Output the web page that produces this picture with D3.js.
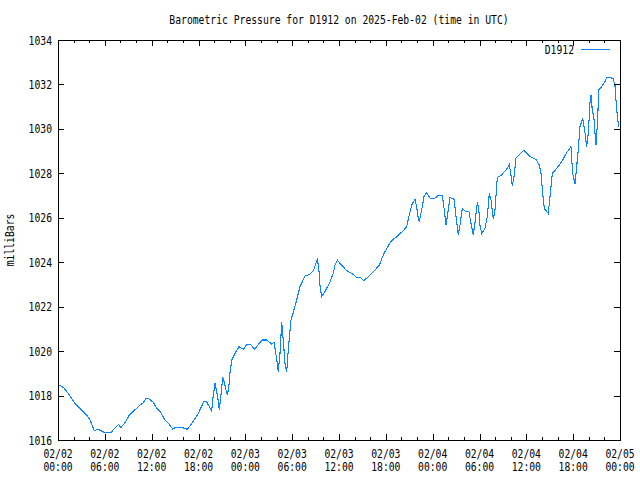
<!DOCTYPE html>
<html><head><meta charset="utf-8">
<script src="https://cdn.jsdelivr.net/npm/d3@7"></script>
<style>body{margin:0;background:#fff}svg{display:block}text{font-family:"DejaVu Sans Mono",monospace;fill:#000}</style>
</head><body>
<svg id="c" width="640" height="480"></svg>
<script>
const title = "Barometric Pressure for D1912 on 2025-Feb-02 (time in UTC)";
const seriesName = "D1912";
const yLabel = "milliBars";
const startTime = Date.UTC(2025, 1, 2, 0, 0);
const hours = [0,0.68,1.32,2.18,3.67,4.1,4.65,5.16,6.02,6.75,7.73,8.07,8.58,9.14,10.5,10.93,11.27,11.7,12.2,12.64,13.07,13.7,14.13,14.69,15.12,15.84,16.6,17.13,17.98,18.7,19.05,19.38,19.69,19.81,20.11,20.24,20.46,20.67,20.84,21.1,21.31,21.52,21.69,21.87,22.03,22.25,22.68,23.19,23.74,24.17,24.68,25.2,25.66,26.22,26.73,27.37,27.67,28.06,28.22,28.44,28.66,28.86,29.08,29.3,29.5,29.85,30.15,30.58,31.0,31.64,32.2,32.71,33.05,33.22,33.4,33.56,33.78,34.2,34.85,35.27,35.49,35.79,36.13,36.98,37.63,38.26,38.69,39.2,39.75,40.4,41.16,41.67,42.19,42.75,43.39,44.24,44.67,45.0,45.31,45.73,45.95,46.16,46.28,46.59,46.89,47.23,47.74,48.2,48.72,49.23,49.49,49.71,50.0,50.22,50.73,50.95,51.28,51.5,51.79,52.14,52.65,52.87,53.21,53.43,53.73,53.9,54.06,54.28,54.7,55.0,55.26,55.48,55.77,55.98,56.28,56.84,57.05,57.48,57.82,58.03,58.2,58.42,58.67,59.18,59.7,60.04,60.47,61.23,61.66,61.88,62.09,62.3,62.81,63.03,63.33,63.89,64.53,65.17,65.72,65.93,66.23,66.53,66.66,66.87,67.22,67.5,67.72,67.94,68.15,68.28,68.45,68.66,68.83,68.92,69.14,69.26,69.65,70.07,70.28,70.71,71.13,71.35,71.56,71.82];
const pressure = [1018.5,1018.37,1018.1,1017.65,1017.12,1016.9,1016.42,1016.48,1016.33,1016.33,1016.7,1016.57,1016.78,1017.12,1017.57,1017.68,1017.87,1017.84,1017.7,1017.43,1017.28,1016.9,1016.75,1016.5,1016.57,1016.57,1016.48,1016.75,1017.2,1017.75,1017.72,1017.5,1017.3,1017.8,1018.55,1018.33,1017.95,1017.35,1017.88,1018.82,1018.58,1018.25,1018.02,1018.33,1019.0,1019.6,1019.9,1020.2,1020.08,1020.3,1020.3,1020.08,1020.3,1020.5,1020.5,1020.32,1020.4,1019.53,1019.08,1019.9,1021.3,1020.5,1019.45,1019.07,1020.05,1021.4,1021.75,1022.3,1022.9,1023.38,1023.45,1023.62,1023.95,1024.1,1023.8,1022.97,1022.45,1022.67,1023.12,1023.5,1023.87,1024.1,1023.95,1023.62,1023.5,1023.32,1023.32,1023.17,1023.35,1023.57,1023.87,1024.32,1024.67,1024.97,1025.15,1025.42,1025.6,1026.12,1026.57,1026.83,1026.5,1025.98,1025.82,1026.35,1026.95,1027.13,1026.85,1026.85,1027.02,1027.0,1026.35,1025.67,1026.35,1026.9,1026.85,1026.2,1025.22,1025.67,1026.42,1026.3,1026.27,1025.82,1025.22,1025.82,1026.7,1026.42,1025.67,1025.3,1025.52,1026.05,1027.1,1026.8,1025.93,1026.35,1027.82,1027.92,1028.03,1028.18,1028.4,1027.92,1027.43,1027.85,1028.68,1028.86,1029.05,1028.9,1028.75,1028.63,1028.37,1028.0,1027.1,1026.42,1026.2,1026.95,1028.0,1028.22,1028.52,1028.93,1029.2,1028.0,1027.52,1028.6,1029.08,1030.1,1030.48,1029.87,1029.2,1029.8,1031.15,1031.52,1030.85,1030.48,1029.65,1029.27,1030.4,1031.75,1031.9,1032.12,1032.32,1032.32,1032.25,1031.97,1030.93,1030.1];
const yTicks = [1016,1018,1020,1022,1024,1026,1028,1030,1032,1034];
const xTickHours = [0,6,12,18,24,30,36,42,48,54,60,66,72];
const xTickLabels = [["02/02","00:00"],["02/02","06:00"],["02/02","12:00"],["02/02","18:00"],["02/03","00:00"],["02/03","06:00"],["02/03","12:00"],["02/03","18:00"],["02/04","00:00"],["02/04","06:00"],["02/04","12:00"],["02/04","18:00"],["02/05","00:00"]];
const minorTickHours = d3.range(0, 73, 2);

const L = 58, R = 620, T = 40, B = 440;
const svg = d3.select("#c");
const HR = 3600e3;
const x = d3.scaleUtc().domain([new Date(startTime), new Date(startTime + 72*HR)]).range([L, R]);
const y = d3.scaleLinear().domain([1016, 1034]).range([B, T]);
const data = hours.map((h, i) => ({t: new Date(startTime + h*HR), v: pressure[i]}));
const CW = 5.85;
function txt(g, s, xx, yy, anchor) {
  return g.append("text").attr("x", xx).attr("y", yy).attr("font-size", 12)
    .attr("text-anchor", anchor || "start").text(s)
    .attr("textLength", s.length * CW).attr("lengthAdjust", "spacingAndGlyphs");
}
const lineColor = "#0a84ff";

svg.append("path").datum(data)
  .attr("fill", "none").attr("stroke", lineColor).attr("stroke-width", 1.1)
  .attr("shape-rendering", "crispEdges")
  .attr("d", d3.line().x(d => x(d.t)).y(d => y(d.v)));

const g = svg.append("g").attr("shape-rendering", "crispEdges").attr("stroke", "#000");
minorTickHours.forEach(h => {
  const xx = Math.round(x(new Date(startTime + h*HR))) + 0.5;
  const len = h % 6 === 0 ? 6 : 3;
  g.append("line").attr("x1", xx).attr("x2", xx).attr("y1", B).attr("y2", B - len);
  g.append("line").attr("x1", xx).attr("x2", xx).attr("y1", T).attr("y2", T + len);
});
yTicks.forEach(v => {
  const yy = Math.round(y(v)) + 0.5;
  g.append("line").attr("x1", L).attr("x2", L + 6).attr("y1", yy).attr("y2", yy);
  g.append("line").attr("x1", R).attr("x2", R - 6).attr("y1", yy).attr("y2", yy);
});
g.append("rect").attr("x", L + 0.5).attr("y", T + 0.5).attr("width", R - L).attr("height", B - T)
  .attr("fill", "none").attr("stroke", "#000");

const lab = svg.append("g");
yTicks.forEach(v => txt(lab, String(v), 52, y(v) + 4.5, "end"));
xTickHours.forEach((h, i) => {
  const xx = x(new Date(startTime + h*HR));
  txt(lab, xTickLabels[i][0], xx, 458, "middle");
  txt(lab, xTickLabels[i][1], xx, 471, "middle");
});
txt(lab, title, 339, 24, "middle");
txt(lab, yLabel, 0, 0, "middle").attr("transform", "translate(14,240) rotate(-90)");

txt(lab, seriesName, 574, 54, "end");
svg.append("line").attr("x1", 581).attr("x2", 610).attr("y1", 49.5).attr("y2", 49.5)
  .attr("stroke", lineColor).attr("stroke-width", 1).attr("shape-rendering", "crispEdges");
</script>
</body></html>
